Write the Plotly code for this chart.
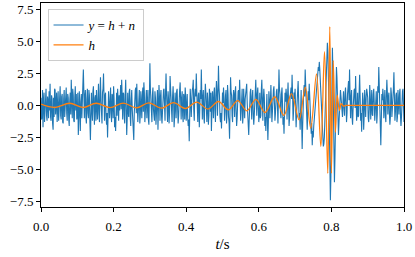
import plotly.graph_objects as go

# ---- data ----
# observed signal y = h + n, sampled uniformly on [0, 1] s (721 samples)
y_obs = [
    0.6, -1.1, -0.9, 1.2, -1.7, 0.4, 1.0, -1.3, -0.5, 0.9, 1.3, -0.8, -1.2, 0.7, 0.3, -1.0, 1.1, -0.4, 1.7, -0.9,
    -1.2, 0.8, 0.5, -1.4, -1.9, 0.6, -0.9, 1.3, 1.2, -0.7, 0.4, 1.0, -1.3, -0.2, 1.1, -1.2, -0.6, 0.9, 1.5, -0.8,
    -1.1, 0.7, 0.9, -1.3, -1.4, 0.5, 1.2, -0.9, -0.3, 1.1, 1.4, -0.6, -1.2, 0.9, 0.6, -1.1, -1.6, 0.3, 1.0, -0.7,
    2.0, 0.5, -1.0, 1.3, 0.8, -1.2, -1.3, 0.6, 1.5, -0.4, 0.9, -1.1, -0.8, 1.0, -2.3, -0.9, 1.1, -1.4, -2.0, 0.3,
    0.9, -1.0, 1.3, 0.2, 2.8, 1.1, -1.0, 0.7, 1.2, -0.9, -1.4, 0.5, 1.3, -0.6, -1.0, 1.2, 0.8, -1.3, -2.7, -0.8,
    1.0, -0.5, -1.2, 1.1, 1.5, -0.4, -1.5, 0.6, 0.8, -1.2, 1.2, 0.2, -1.1, 0.9, 1.7, -0.7, -1.3, 1.0, 2.2, 0.3,
    -0.9, -1.4, 1.0, 1.3, 2.5, 0.4, -1.2, 0.8, 1.0, -0.8, -1.5, -0.6, -2.5, -0.9, 1.1, 0.2, -1.0, 1.2, 1.4, -0.6,
    -1.3, 0.9, 0.7, -1.0, 1.5, 0.5, -1.7, -0.9, -2.0, 0.6, 1.0, -0.8, 1.3, 0.4, -1.2, 0.8, -0.4, 1.2, 1.6, -0.3,
    2.0, 0.7, -1.1, 1.0, 0.9, -0.8, -1.4, 0.9, 2.0, -0.2, -2.3, -1.0, 1.0, -0.5, -0.9, 1.1, 1.3, -0.9, -1.6, 0.4,
    1.2, -0.3, -1.1, -1.4, -2.7, -0.6, 0.9, 1.2, 1.4, -0.6, 1.7, 0.3, -1.3, -0.5, 1.0, 1.2, -1.4, -0.7, 1.1, 0.5,
    -1.0, 0.8, 1.4, -0.5, 1.8, 1.0, -1.3, -0.6, 1.0, 1.2, -1.0, 0.6, 1.2, -1.1, -1.5, 0.7, 3.3, 1.3, 0.5, -1.0,
    -1.3, 0.8, 1.4, -0.3, -0.8, -1.2, 1.1, 0.6, -1.5, -0.7, 0.9, 1.2, -1.9, -0.8, 1.6, 0.6, -1.2, 0.7, 1.2, -0.8,
    -1.4, -0.5, 0.9, 1.2, 1.3, -0.4, -1.2, 1.0, 2.5, 0.9, -0.9, -1.3, 1.1, 0.5, -1.4, -0.6, 2.3, 1.0, 0.4, -1.1,
    -1.3, 0.7, 1.5, 0.4, -1.7, -0.9, 1.0, -0.6, -1.0, 1.1, 1.3, -0.3, -1.4, -0.8, 1.0, 1.2, 1.8, 0.5, -1.1, 0.6,
    1.1, -0.8, -1.3, 0.9, 0.6, -1.1, 1.4, 0.7, -1.2, 0.5, 0.9, -1.0, -1.6, -1.1, -2.8, -0.7, 1.3, 0.4, -0.9, 1.0,
    1.2, 1.4, 2.0, -0.3, -1.2, 0.9, 1.3, 0.7, 2.5, 1.0, -1.0, -1.3, 0.8, 1.0, -1.7, -0.6, 1.2, 0.5, 2.8, 0.8,
    -1.1, 0.7, 1.2, -0.9, -1.4, 0.6, 1.7, 0.9, -0.9, -1.3, 1.0, 0.3, -1.5, -0.8, 1.3, 0.9, -0.5, 1.0, -2.0, -1.0,
    1.1, 0.3, -1.0, 1.0, 1.4, -0.4, -1.3, 0.9, 1.9, 1.1, -0.8, 0.7, 3.1, 1.4, 0.8, -0.9, -1.3, -0.6, -1.8, -0.4,
    1.0, 0.2, 1.4, 0.6, -1.2, -0.5, 0.8, 1.2, -1.4, -0.7, 1.6, 0.9, -0.9, -1.3, -2.6, -0.9, 2.2, 1.1, 0.8, -0.8,
    -1.3, 0.5, 1.2, 0.8, -0.9, 1.0, 1.5, -0.4, -1.6, -1.0, 0.7, 1.1, 1.2, 0.3, 2.0, 1.0, -1.2, -0.5, 0.9, 1.3,
    -1.4, -0.7, 1.3, 0.6, -1.0, 0.5, 1.1, 1.3, 1.7, 0.2, -1.2, -0.6, -2.3, -1.1, 0.8, 1.0, 1.3, -0.2, -1.1, 0.7,
    1.2, -0.6, -1.5, -0.8, 1.0, 1.2, 2.0, 0.6, -0.8, 0.9, 1.4, -0.2, -1.3, -0.7, 1.0, -1.0, -0.8, 1.2, 2.0, 0.4,
    -1.2, 0.5, 1.3, 0.6, -1.6, -0.9, -2.0, -0.5, 0.9, -1.1, -2.7, -1.2, 1.1, 0.4, -1.0, 1.0, 1.6, 0.2, -1.3, -0.5,
    1.0, 1.2, 1.5, -0.2, -1.2, -0.6, 0.8, 1.1, 1.3, -0.8, -1.4, 0.7, 2.8, 1.3, 0.9, -0.6, -1.0, 0.9, 1.4, 0.2,
    -1.5, -0.9, -2.2, -0.5, 1.0, 0.3, 1.3, 0.8, -1.1, 0.6, 1.8, 0.2, -1.6, -1.0, 0.6, 1.2, 1.4, 0.5, 2.4, 0.9,
    -1.2, -0.4, 1.0, 0.5, 1.3, -0.9, -1.7, -0.6, 0.8, 1.2, 1.9, 0.5, -1.1, -0.6, -1.9, -1.0, 1.2, -1.3, -3.4, -1.6,
    0.6, 1.1, 1.6, 0.7, 2.8, 1.2, -0.8, -1.4, -1.9, -0.7, 1.1, 0.4, 1.7, 0.6, -1.2, -1.8, -2.2, -1.4, -3.1, -2.0,
    -2.5, -1.6, -1.0, -0.5, 0.2, 0.6, 1.0, 1.6, 2.0, 2.6, 3.0, 2.7, 3.4, 2.8, 2.0, 1.0, 0.5, -0.5, -1.5, -2.4,
    -3.2, -3.0, -2.5, -1.2, 0.0, 1.4, 2.5, 3.6, 4.9, 4.2, 3.0, 0.5, -2.0, -5.0, -7.4, -5.5, -2.0, 1.5, 4.5, 2.5,
    -1.0, -4.0, -6.0, -4.2, -1.0, 1.5, 3.0, 2.2, 1.0, -0.8, -2.3, -1.4, -0.5, 0.4, 1.2, 0.7, 0.2, -0.5, -0.9, 0.3,
    1.1, -0.2, -0.8, 0.9, 1.4, 0.3, -1.3, -0.6, 0.9, 1.2, 1.9, 0.4, 2.8, 0.9, -1.0, 0.6, 1.2, -0.9, -1.5, -0.3,
    0.8, 1.2, 1.3, -0.2, 2.3, 0.8, -1.2, -0.6, 1.0, -0.9, -0.8, 1.0, 2.4, 0.7, -1.2, -0.6, -2.05, -0.9, 1.0, 0.4,
    -1.9, -0.8, 1.2, 0.5, -0.9, 0.7, 1.3, 1.0, 0.6, -1.0, -1.3, -0.4, 1.6, 0.8, -1.1, 0.5, 1.2, -0.7, -0.8, 0.9,
    1.3, 0.2, -1.2, -0.5, 0.9, 1.1, -1.4, -0.7, 1.5, 1.0, 3.0, 1.3, -0.8, -1.4, -3.1, -1.2, 0.9, 0.4, 1.3, 0.7,
    -1.0, 0.5, 1.2, -0.8, -1.3, 0.8, 2.0, 1.0, -0.7, 0.6, 1.0, -0.6, -1.5, -0.9, 1.4, 0.9, -0.9, 0.5, 1.1, 1.3,
    2.6, 1.0, -1.2, -0.5, 0.8, 1.0, -1.3, -0.9, 1.2, 0.6, -0.7, 0.9, 1.3, -0.8, -1.6, -0.9, 0.8, 1.1, 1.3, 0.4,
    -1.3,
]
t_obs = [i / (len(y_obs) - 1) for i in range(len(y_obs))]

# clean chirp h: times (s) and values at its peaks / troughs
t_h = [0.000, 0.038, 0.079, 0.116, 0.152, 0.190, 0.227, 0.263, 0.297, 0.332,
       0.365, 0.398, 0.429, 0.460, 0.489, 0.516, 0.542, 0.567, 0.592, 0.617,
       0.644, 0.669, 0.690, 0.711, 0.728, 0.743, 0.759, 0.771, 0.781, 0.790,
       0.7955, 0.800, 0.805, 0.811, 0.816, 0.822, 0.827, 0.833, 0.840, 0.870,
       0.930, 1.000]
h_vals = [0.10, -0.16, 0.17, -0.16, 0.17, -0.17, 0.18, -0.19, 0.20, -0.21,
          0.22, -0.24, 0.26, -0.28, 0.31, -0.34, 0.38, -0.42, 0.48, -0.55,
          0.68, -0.78, 0.93, -1.12, 1.42, -1.78, 2.46, -3.2, 4.2, -5.3,
          6.15, -5.3, 3.5, -2.1, 0.8, -0.4, 0.15, -0.05, 0.0, 0.0,
          0.0, 0.0]

x_ticks = [0.0, 0.2, 0.4, 0.6, 0.8, 1.0]
y_ticks = [-7.5, -5.0, -2.5, 0.0, 2.5, 5.0, 7.5]

FONT = "Liberation Serif, Times New Roman, DejaVu Serif, serif"

fig = go.Figure()
fig.add_trace(go.Scatter(
    x=t_obs, y=y_obs, mode="lines",
    name="<i>y</i> = <i>h</i> + <i>n</i>",
    line=dict(color="#1f77b4", width=1.1),
))
fig.add_trace(go.Scatter(
    x=t_h, y=h_vals, mode="lines", name="<i>h</i>",
    line=dict(color="#ff7f0e", width=1.3, shape="spline", smoothing=1.0),
))

axis_common = dict(
    showgrid=False, zeroline=False, showline=True, linecolor="black",
    linewidth=1, mirror=True, ticks="outside", ticklen=4, tickwidth=1,
    tickcolor="black", automargin=False,
    tickfont=dict(family=FONT, size=13, color="black"),
)
fig.update_xaxes(range=[0, 1], tickvals=x_ticks, tickformat=".1f",
                 ticklabelstandoff=3,
                 title=dict(text="<i>t</i>/s", font=dict(family=FONT, size=15, color="black"),
                            standoff=5),
                 **axis_common)
fig.update_yaxes(range=[-7.93, 8.0], tickvals=y_ticks, tickformat=".1f",
                 **axis_common)

fig.update_layout(
    template="none",
    width=415, height=257,
    margin=dict(l=41, r=11, t=3, b=50, pad=0),
    plot_bgcolor="white", paper_bgcolor="white",
    font=dict(family=FONT, size=13, color="black"),
    legend=dict(x=0.018, y=0.97, xanchor="left", yanchor="top",
                bgcolor="rgba(255,255,255,0.8)", bordercolor="#cccccc",
                borderwidth=1, font=dict(family=FONT, size=13, color="black"),
                itemwidth=30, tracegroupgap=0),
    showlegend=True,
)

fig.write_html(
    "out.html",
    config={"displayModeBar": False},
    post_script="document.body.style.margin='0';document.body.style.padding='0';"
                "window.dispatchEvent(new Event('resize'));",
)
